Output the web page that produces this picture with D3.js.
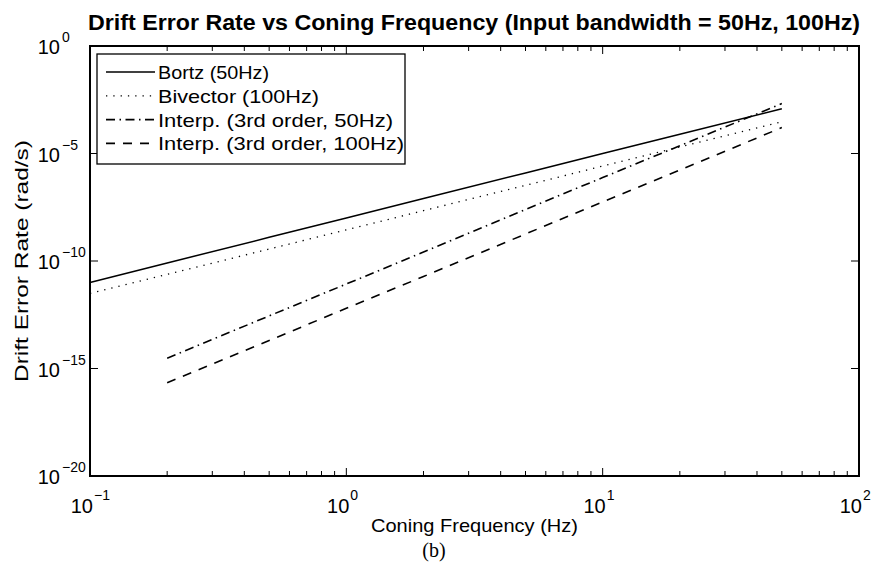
<!DOCTYPE html>
<html>
<head>
<meta charset="utf-8">
<script src="https://cdn.jsdelivr.net/npm/d3@7"></script>
<style>
body{margin:0;background:#fff;}
text{font-family:"Liberation Sans",Arial,Helvetica,sans-serif;fill:#000;}
</style>
</head>
<body>
<div id="chart"></div>
<script>
// frequencies (Hz) where values were read
var freqs=[0.1,0.2,0.5,1,2,5,10,20,50];
var freqsInterp=[0.2,0.5,1,2,5,10,20,50];

// drift error rate (rad/s)
var bortz=[1.0e-11,8.1e-11,1.26e-9,1.0e-8,8.0e-8,1.25e-6,1.0e-5,7.8e-5,1.2e-3];
var bivector=[3.1e-12,2.4e-11,3.6e-10,2.8e-9,2.2e-8,3.3e-7,2.6e-6,2.0e-5,3.0e-4];
var interp50=[3.0e-15,2.8e-13,8.5e-12,2.6e-10,2.5e-8,7.6e-7,2.3e-5,2.1e-3];
var interp100=[2.2e-16,2.0e-14,6.3e-13,1.9e-11,1.8e-9,5.6e-8,1.7e-6,1.6e-4];

var legendNames=["Bortz (50Hz)","Bivector (100Hz)","Interp. (3rd order, 50Hz)","Interp. (3rd order, 100Hz)"];
var xTickExp=[-1,0,1,2];
var yTickExp=[0,-5,-10,-15,-20];

var width=876,height=566;
var pLeft=90,pRight=859,pTop=46,pBottom=476;

var svg=d3.select("#chart").append("svg")
    .attr("width",width)
    .attr("height",height);

svg.append("rect").attr("width",width).attr("height",height).attr("fill","white");

var x=d3.scaleLog().domain([0.1,100]).range([pLeft,pRight]);
var y=d3.scaleLog().domain([1e-20,1]).range([pBottom,pTop]);

// series
var series=[
    {x:freqs,y:bortz,dash:null,w:1.5},
    {x:freqs,y:bivector,dash:"1.3,6",w:1.3},
    {x:freqsInterp,y:interp50,dash:"9,4.5,1.5,4.5",w:1.6},
    {x:freqsInterp,y:interp100,dash:"9,8",w:1.6}
];

var line=d3.line()
    .x(function(d){return x(d[0]);})
    .y(function(d){return y(d[1]);});

series.forEach(function(s){
    var pts=s.x.map(function(v,i){return [v,s.y[i]];});
    svg.append("path")
        .attr("d",line(pts))
        .attr("fill","none")
        .attr("stroke","black")
        .attr("stroke-width",s.w)
        .attr("stroke-dasharray",s.dash);
});

// ticks (inside, all four sides)
var g=svg.append("g").attr("stroke","black").attr("stroke-width",1);
var minor=[];
for (var e=-1;e<2;++e){
    for (var k=2;k<10;++k) minor.push(k*Math.pow(10,e));
}
xTickExp.forEach(function(e){
    var px=x(Math.pow(10,e));
    g.append("line").attr("x1",px).attr("x2",px).attr("y1",pBottom).attr("y2",pBottom-8);
    g.append("line").attr("x1",px).attr("x2",px).attr("y1",pTop).attr("y2",pTop+8);
});
minor.forEach(function(v){
    var px=x(v);
    g.append("line").attr("x1",px).attr("x2",px).attr("y1",pBottom).attr("y2",pBottom-5);
    g.append("line").attr("x1",px).attr("x2",px).attr("y1",pTop).attr("y2",pTop+5);
});
yTickExp.forEach(function(e){
    var py=y(Math.pow(10,e));
    g.append("line").attr("x1",pLeft).attr("x2",pLeft+8).attr("y1",py).attr("y2",py);
    g.append("line").attr("x1",pRight).attr("x2",pRight-8).attr("y1",py).attr("y2",py);
});

// axes box
svg.append("rect")
    .attr("x",pLeft).attr("y",pTop)
    .attr("width",pRight-pLeft).attr("height",bottomOf()-pTop)
    .attr("fill","none").attr("stroke","black").attr("stroke-width",2);
function bottomOf(){return pBottom;}

// tick labels
xTickExp.forEach(function(e){
    var px=x(Math.pow(10,e));
    svg.append("text").attr("x",px+3).attr("y",513)
        .attr("text-anchor","end").attr("font-size",20).text("10");
    svg.append("text").attr("x",px+4).attr("y",500)
        .attr("font-size",14).text(String(e).replace("-","\u2212"));
});
yTickExp.forEach(function(e){
    var py=y(Math.pow(10,e));
    svg.append("text").attr("x",60).attr("y",py+8)
        .attr("text-anchor","end").attr("font-size",20).text("10");
    svg.append("text").attr("x",62).attr("y",py-4)
        .attr("font-size",14).text(String(e).replace("-","\u2212"));
});

// titles
svg.append("text").attr("x",88).attr("y",30)
    .attr("font-size",22).attr("font-weight","bold")
    .attr("textLength",772).attr("lengthAdjust","spacingAndGlyphs")
    .text("Drift Error Rate vs Coning Frequency (Input bandwidth = 50Hz, 100Hz)");
svg.append("text").attr("x",371).attr("y",532)
    .attr("font-size",19)
    .attr("textLength",207).attr("lengthAdjust","spacingAndGlyphs")
    .text("Coning Frequency (Hz)");
svg.append("text").attr("transform","translate(28,382) rotate(-90)")
    .attr("font-size",19)
    .attr("textLength",242).attr("lengthAdjust","spacingAndGlyphs")
    .text("Drift Error Rate (rad/s)");
svg.append("text").attr("x",434).attr("y",557)
    .attr("text-anchor","middle").attr("font-size",20)
    .style("font-family","'Liberation Serif','Times New Roman',serif")
    .text("(b)");

// legend
var legendW=[111,161,235,246];
var lg=svg.append("g");
lg.append("rect").attr("x",97).attr("y",54).attr("width",308).attr("height",110)
    .attr("fill","white").attr("stroke","black").attr("stroke-width",1.3);
legendNames.forEach(function(name,i){
    var ly=72+i*23.8;
    lg.append("line").attr("x1",106).attr("x2",155).attr("y1",ly).attr("y2",ly)
        .attr("stroke","black").attr("stroke-width",series[i].w)
        .attr("stroke-dasharray",series[i].dash);
    lg.append("text").attr("x",158).attr("y",ly+7).attr("font-size",19)
        .attr("textLength",legendW[i]).attr("lengthAdjust","spacingAndGlyphs")
        .text(name);
});
</script>
</body>
</html>
